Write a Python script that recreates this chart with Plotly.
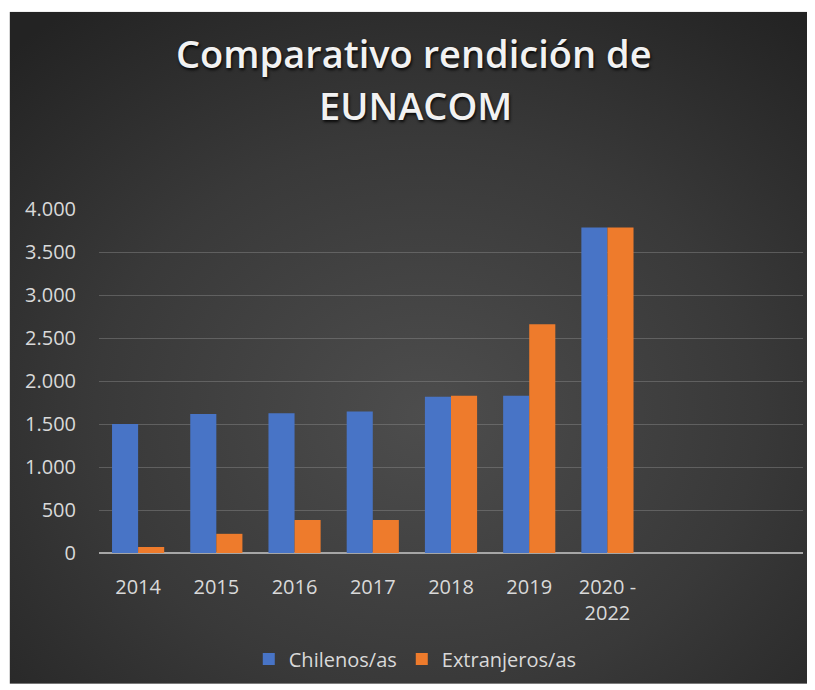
import plotly.graph_objects as go
import base64

categories = ["2014", "2015", "2016", "2017", "2018", "2019", "2020 -<br>2022"]
chilenos = [1500, 1617, 1625, 1645, 1818, 1829, 3785]
extranjeros = [70, 223, 384, 384, 1829, 2659, 3785]
y_ticks = [0, 500, 1000, 1500, 2000, 2500, 3000, 3500, 4000]
y_tick_labels = ["0", "500", "1.000", "1.500", "2.000", "2.500", "3.000", "3.500", "4.000"]
n_slots = 9  # chart has two empty category slots at the right

x_pos = list(range(len(categories)))

FONT = "Open Sans"
TXT = "#d9d9d9"

# page body margin offsets the figure by 8px
OFF = 8
FIG_W, FIG_H = 815 - OFF, 690 - OFF

# plot area in page pixels: x 98.5..803, y 209..556
L, R, T, B = 98.5, 803, 209, 556
W, H = R - L, B - T

def px_x(p):
    return (p - L) / W

def px_y(p):
    return (B - p) / H

svg = (
    '<svg xmlns="http://www.w3.org/2000/svg" width="800" height="680" viewBox="0 0 800 680" preserveAspectRatio="none">'
    '<defs><radialGradient id="g" cx="52%" cy="60%" r="75%">'
    '<stop offset="0" stop-color="#4d4d4d"/>'
    '<stop offset="0.55" stop-color="#393939"/>'
    '<stop offset="1" stop-color="#232323"/>'
    '</radialGradient></defs>'
    '<rect width="800" height="680" fill="url(#g)"/></svg>'
)
bg_src = "data:image/svg+xml;base64," + base64.b64encode(svg.encode()).decode()

fig = go.Figure()
fig.add_trace(go.Bar(name="Chilenos/as", x=x_pos, y=chilenos, marker=dict(color="#4874C6", line=dict(width=0))))
fig.add_trace(go.Bar(name="Extranjeros/as", x=x_pos, y=extranjeros, marker=dict(color="#EE7B2C", line=dict(width=0))))

title_font = dict(family=FONT, size=38, color="#f2f2f2", weight=600,
                  shadow="1px 2px 3px rgba(0,0,0,0.85)")

fig.update_layout(
    width=FIG_W, height=FIG_H,
    margin=dict(l=L - OFF, r=815 - R, t=T - OFF, b=690 - B, pad=0),
    paper_bgcolor="white",
    plot_bgcolor="rgba(0,0,0,0)",
    barmode="group",
    bargap=0.333,
    bargroupgap=0,
    showlegend=True,
    legend=dict(orientation="h", x=px_x(415), xanchor="center", y=px_y(663), yanchor="middle",
                font=dict(family=FONT, size=20, color=TXT), bgcolor="rgba(0,0,0,0)",
                itemwidth=30, traceorder="normal"),
    images=[dict(source=bg_src, xref="paper", yref="paper",
                 x=px_x(9), y=px_y(10), sizex=(811 - 9) / W, sizey=(688 - 10) / H,
                 xanchor="left", yanchor="top", sizing="stretch", layer="below")],
    annotations=[
        dict(text="Comparativo rendición de", xref="paper", yref="paper",
             x=px_x(414), y=px_y(52), xanchor="center", yanchor="middle", showarrow=False,
             font=title_font),
        dict(text="EUNACOM", xref="paper", yref="paper",
             x=px_x(415), y=px_y(104), xanchor="center", yanchor="middle", showarrow=False,
             font=title_font),
    ],
    xaxis=dict(range=[-0.5, n_slots - 0.5], tickmode="array", tickvals=x_pos, ticktext=categories,
               showgrid=False, zeroline=False, showline=False, ticks="",
               tickfont=dict(family=FONT, size=20, color=TXT), ticklabelstandoff=20),
    yaxis=dict(range=[0, 4000], tickmode="array", tickvals=y_ticks, ticktext=y_tick_labels,
               showgrid=True, gridcolor="rgba(140,140,140,0.45)", gridwidth=1,
               zeroline=True, zerolinecolor="#a6a6a6", zerolinewidth=2,
               showline=False, ticks="", tickfont=dict(family=FONT, size=20, color=TXT),
               ticklabelstandoff=22),
)

fig.write_html("out.html")
